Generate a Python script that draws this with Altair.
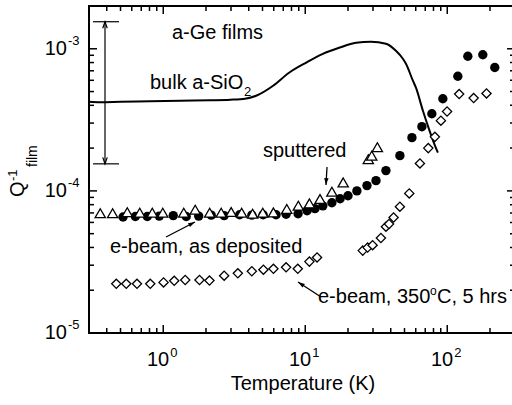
import math
import altair as alt
import pandas as pd

FONT = "Liberation Sans"

# ---- data -------------------------------------------------------------
# bulk amorphous SiO2 reference curve
bulk_T = [0.3, 0.36, 0.5, 0.81, 1.32, 2.14, 2.96, 3.77, 4.51, 5.94, 7.69, 10.1,
          13.3, 17.3, 22.8, 29.0, 37.0, 43.5, 48.7, 51.2, 57.3, 60.2, 67.4,
          74.2, 80.5, 85.9]
bulk_Q = [4.24e-4, 4.21e-4, 4.24e-4, 4.27e-4, 4.31e-4, 4.34e-4, 4.38e-4,
          4.45e-4, 4.67e-4, 5.49e-4, 6.78e-4, 7.97e-4, 9.22e-4, 1.016e-3,
          1.102e-3, 1.120e-3, 1.084e-3, 9.68e-4, 8.51e-4, 7.84e-4, 5.96e-4,
          5.32e-4, 3.66e-4, 2.74e-4, 2.18e-4, 1.86e-4]

# sputtered a-Ge film
sput_T = [0.36, 0.44, 0.558, 0.683, 0.837, 0.992, 1.394, 1.679, 2.123, 2.558,
          3.008, 3.565, 4.26, 5.02, 5.97, 7.41, 8.94, 10.7, 12.7, 15.4, 18.5,
          27.8, 29.4, 32.2]
sput_Q = [6.97e-5, 6.97e-5, 7.08e-5, 7.03e-5, 7.03e-5, 7.03e-5, 7.03e-5,
          7.38e-5, 7.03e-5, 7.03e-5, 7.10e-5, 7.03e-5, 6.91e-5, 7.03e-5,
          7.06e-5, 7.46e-5, 7.87e-5, 8.17e-5, 8.77e-5, 9.87e-5, 1.148e-4,
          1.671e-4, 1.768e-4, 2.03e-4]

# e-beam a-Ge film, as deposited
asdep_T = [0.521, 0.636, 0.772, 0.937, 1.176, 1.451, 1.777, 2.176, 2.685,
           3.451, 4.206, 5.05, 6.23, 7.33, 8.90, 10.3, 11.7, 13.3, 15.4, 17.6,
           20.0, 23.1, 27.2, 31.5, 37.0, 46.4, 56.4, 66.3, 77.9, 93.1, 118.7,
           139.6, 178.0, 216.1]
asdep_Q = [6.55e-5, 6.60e-5, 6.60e-5, 6.65e-5, 6.70e-5, 6.60e-5, 6.65e-5,
           6.75e-5, 6.70e-5, 6.80e-5, 6.75e-5, 6.80e-5, 6.80e-5, 6.85e-5,
           6.90e-5, 7.25e-5, 7.50e-5, 7.85e-5, 8.25e-5, 8.80e-5, 9.25e-5,
           1.00e-4, 1.09e-4, 1.18e-4, 1.39e-4, 1.77e-4, 2.37e-4, 2.83e-4,
           3.49e-4, 4.45e-4, 6.41e-4, 8.86e-4, 9.07e-4, 7.39e-4]

# e-beam a-Ge film, annealed 350 C for 5 hrs
anneal_T = [0.467, 0.549, 0.653, 0.810, 1.005, 1.195, 1.428, 1.80, 2.116,
            2.685, 3.352, 4.206, 5.075, 5.97, 7.33, 8.86, 10.69, 12.11, 25.4,
            27.5, 29.8, 34.1, 37.0, 38.9, 41.9, 46.4, 54.0, 64.2, 73.5, 81.8,
            90.2, 99.7, 121.3, 153.4, 189.0]
anneal_Q = [2.22e-5, 2.22e-5, 2.22e-5, 2.22e-5, 2.27e-5, 2.33e-5, 2.36e-5,
            2.36e-5, 2.34e-5, 2.53e-5, 2.63e-5, 2.72e-5, 2.79e-5, 2.83e-5,
            2.90e-5, 2.83e-5, 3.18e-5, 3.40e-5, 3.80e-5, 3.99e-5, 4.15e-5,
            4.66e-5, 5.60e-5, 5.85e-5, 6.50e-5, 7.74e-5, 9.60e-5, 1.56e-4,
            2.00e-4, 2.40e-4, 3.12e-4, 3.62e-4, 4.80e-4, 4.50e-4, 4.85e-4]

# range bar spanning one decade of internal friction
range_Q = [1.55e-4, 1.55e-3]

# axis ticks
x_major = [1, 10, 100]
x_minor = [0.4, 0.5, 0.6, 0.7, 0.8, 0.9, 2, 3, 4, 5, 6, 7, 8, 9,
           20, 30, 40, 50, 60, 70, 80, 90, 200]
y_major = [1e-5, 1e-4, 1e-3]
y_minor = [2e-5, 3e-5, 4e-5, 5e-5, 6e-5, 7e-5, 8e-5, 9e-5,
           2e-4, 3e-4, 4e-4, 5e-4, 6e-4, 7e-4, 8e-4, 9e-4]

# ---- layout -----------------------------------------------------------
W, H = 423, 327
XR = 426  # x scale extends a little past the right edge of the page
xs = alt.Scale(type="log", domain=[0.3, 300], range=[0, XR])
ys = alt.Scale(type="log", domain=[1e-5, 2e-3])

one = pd.DataFrame({"k": [0]})
HEAD = "M 0 0 L -0.42 1.3 L 0.42 1.3 Z"
OPEN_HEAD = "M -0.45 1.3 L 0 0 L 0.45 1.3"


def text(t, x, y, size=20, **kw):
    return alt.Chart(one).mark_text(
        text=t, font=FONT, fontSize=size, align=kw.pop("align", "left"),
        baseline="alphabetic", color="black", **kw
    ).encode(x=alt.value(x), y=alt.value(y))


def arrow(x0, y0, x1, y1):
    ang = math.degrees(math.atan2(x1 - x0, -(y1 - y0))) % 360
    line = alt.Chart(one).mark_rule(color="black", strokeWidth=1.3).encode(
        x=alt.value(x0), y=alt.value(y0), x2=alt.value(x1), y2=alt.value(y1))
    head = alt.Chart(one).mark_point(
        shape=HEAD, filled=True, size=110, angle=ang, color="black", opacity=1
    ).encode(x=alt.value(x1), y=alt.value(y1))
    return [line, head]


bulk = pd.DataFrame({"T": bulk_T, "Q": bulk_Q})
sput = pd.DataFrame({"T": sput_T, "Q": sput_Q})
asdep = pd.DataFrame({"T": asdep_T, "Q": asdep_Q})
anneal = pd.DataFrame({"T": anneal_T, "Q": anneal_Q})
rng = pd.DataFrame({"Q": range_Q})

X = lambda: alt.X("T:Q", scale=xs, axis=None)
Y = lambda: alt.Y("Q:Q", scale=ys, axis=None)

layers = []

layers.append(alt.Chart(bulk).mark_line(
    color="black", strokeWidth=2, interpolate="monotone").encode(x=X(), y=Y()))

# double arrow with end bars
layers.append(alt.Chart(rng).mark_rule(color="black", strokeWidth=1.2).encode(
    x=alt.value(16), y=alt.Y("min(Q):Q", scale=ys, axis=None), y2="max(Q):Q"))
layers.append(alt.Chart(rng).mark_rule(color="black", strokeWidth=1.2).encode(
    x=alt.value(4), x2=alt.value(30), y=Y()))
layers.append(alt.Chart(rng.iloc[[1]]).mark_point(
    shape=OPEN_HEAD, filled=False, size=100, color="black", strokeWidth=1.2,
    opacity=1).encode(x=alt.value(16), y=Y()))
layers.append(alt.Chart(rng.iloc[[0]]).mark_point(
    shape=OPEN_HEAD, filled=False, size=100, angle=180, color="black",
    strokeWidth=1.2, opacity=1).encode(x=alt.value(16), y=Y()))

# data series
layers.append(alt.Chart(asdep).mark_point(
    shape="circle", filled=True, size=88, color="black", opacity=1).encode(x=X(), y=Y()))
layers.append(alt.Chart(sput).mark_point(
    shape="triangle-up", filled=True, size=105, fill="white", stroke="black",
    strokeWidth=1.3, opacity=1).encode(x=X(), y=Y()))
layers.append(alt.Chart(anneal).mark_point(
    shape="diamond", filled=True, size=85, fill="white", stroke="black",
    strokeWidth=1.3, opacity=1).encode(x=X(), y=Y()))

# frame: left, bottom and top edges
layers.append(alt.Chart(one).mark_rule(color="black", strokeWidth=2).encode(
    x=alt.value(0), x2=alt.value(XR), y=alt.value(0)))
layers.append(alt.Chart(one).mark_rule(color="black", strokeWidth=2).encode(
    x=alt.value(0), x2=alt.value(XR), y=alt.value(H)))
layers.append(alt.Chart(one).mark_rule(color="black", strokeWidth=2).encode(
    x=alt.value(0), y=alt.value(-1), y2=alt.value(H + 1)))


# inward ticks on all four sides
def xticks(vals, length):
    d = pd.DataFrame({"T": vals})
    r = []
    for y0, y1 in ((H, H - length), (0, length)):
        r.append(alt.Chart(d).mark_rule(color="black", strokeWidth=1.5).encode(
            x=X(), y=alt.value(y0), y2=alt.value(y1)))
    return r


def yticks(vals, length):
    d = pd.DataFrame({"Q": vals})
    r = []
    for x0, x1 in ((0, length), (XR, XR - length)):
        r.append(alt.Chart(d).mark_rule(color="black", strokeWidth=1.5).encode(
            y=Y(), x=alt.value(x0), x2=alt.value(x1)))
    return r


layers += xticks(x_major, 8) + xticks(x_minor, 5)
layers += yticks(y_major, 8) + yticks(y_minor, 5)

# tick labels: base "10" plus superscript exponent
xlab = pd.DataFrame({"T": x_major,
                     "e": [str(round(math.log10(v))) for v in x_major]})
ylab = pd.DataFrame({"Q": y_major,
                     "e": [str(round(math.log10(v))) for v in y_major]})
layers.append(alt.Chart(xlab).mark_text(
    text="10", font=FONT, fontSize=20, align="right", dx=6,
    baseline="alphabetic", color="black").encode(x=X(), y=alt.value(360)))
layers.append(alt.Chart(xlab).mark_text(
    font=FONT, fontSize=13, align="left", dx=7, baseline="alphabetic",
    color="black").encode(x=X(), y=alt.value(351), text="e:N"))
layers.append(alt.Chart(ylab).mark_text(
    text="10", font=FONT, fontSize=20, align="right", dy=6,
    baseline="alphabetic", color="black").encode(y=Y(), x=alt.value(-22)))
layers.append(alt.Chart(ylab).mark_text(
    font=FONT, fontSize=13, align="left", dy=-4, baseline="alphabetic",
    color="black").encode(y=Y(), x=alt.value(-21), text="e:N"))

# axis titles
layers.append(text("Temperature (K)", 214, 384, align="center"))
layers.append(text("Q", -65, 191, angle=270))
layers.append(text("-1", -72, 175, size=13, angle=270))
layers.append(text("film", -52, 161, size=14, angle=270))

# annotations
layers.append(text("a-Ge films", 83, 33))
layers.append(text("bulk a-SiO", 61, 83))
layers.append(text("2", 155, 90, size=13))
layers.append(text("sputtered", 174, 151))
layers.append(text("e-beam, as deposited", 21, 247))
layers.append(text("e-beam, 350", 229, 297))
layers.append(text("o", 341, 289, size=12))
layers.append(text("C, 5 hrs", 348, 297))
layers += arrow(238, 161, 237, 179)
layers += arrow(77, 231, 106, 216)
layers += arrow(232, 291, 209, 276)

chart = alt.layer(*layers).properties(
    width=W, height=H,
    autosize=alt.AutoSizeParams(type="none"),
    padding={"left": 89, "top": 6, "right": 0, "bottom": 72},
).configure_view(stroke=None)

chart.save("out.html", embed_options={"renderer": "svg", "actions": False})
